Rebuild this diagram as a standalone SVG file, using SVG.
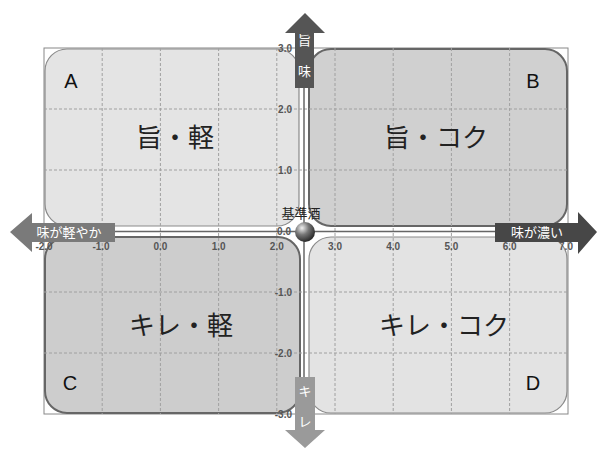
<svg xmlns="http://www.w3.org/2000/svg" width="597" height="450" viewBox="0 0 597 450">
<defs>
<style>
.grid{stroke:#a0a0a0;stroke-width:1;stroke-dasharray:3,2;fill:none}
.tick{font-family:"Liberation Sans",Arial,sans-serif;font-size:10px;font-weight:bold;fill:#555}
.big{font-family:"Noto Sans CJK JP","Liberation Sans",sans-serif;font-size:26px;fill:#222;text-anchor:middle}
.letter{font-family:"Liberation Sans",Arial,sans-serif;font-size:20px;fill:#111;text-anchor:middle}
.arrtxt{font-family:"Noto Sans CJK JP","Liberation Sans",sans-serif;font-size:13px;fill:#fff;text-anchor:middle}
</style>
<radialGradient id="ball" cx="0.35" cy="0.3" r="0.75">
<stop offset="0" stop-color="#f0f0f0"/>
<stop offset="0.45" stop-color="#777"/>
<stop offset="1" stop-color="#222"/>
</radialGradient>
</defs>
<rect width="597" height="450" fill="#fff"/>
<rect x="44" y="48" width="524" height="366" fill="#fff" stroke="#888" stroke-width="1"/>

<g id="quadrantA">
<rect x="45" y="49" width="254" height="177" rx="22" fill="#e4e4e4" stroke="#8a8a8a" stroke-width="1.2"/>
</g>
<g id="quadrantB">
<rect x="309" y="49" width="258" height="177" rx="22" fill="#d0d0d0" stroke="#666" stroke-width="2"/>
</g>
<g id="quadrantC">
<rect x="45" y="237" width="255" height="176" rx="22" fill="#cdcdcd" stroke="#666" stroke-width="2"/>
</g>
<g id="quadrantD">
<rect x="309" y="237" width="258" height="176" rx="22" fill="#e3e3e3" stroke="#8a8a8a" stroke-width="1.2"/>
</g>

<g id="grid">
<line class="grid" x1="102.2" y1="48" x2="102.2" y2="414"/>
<line class="grid" x1="160.4" y1="48" x2="160.4" y2="414"/>
<line class="grid" x1="218.6" y1="48" x2="218.6" y2="414"/>
<line class="grid" x1="276.8" y1="48" x2="276.8" y2="414"/>
<line class="grid" x1="335" y1="48" x2="335" y2="414"/>
<line class="grid" x1="393.2" y1="48" x2="393.2" y2="414"/>
<line class="grid" x1="451.4" y1="48" x2="451.4" y2="414"/>
<line class="grid" x1="509.6" y1="48" x2="509.6" y2="414"/>
<line class="grid" x1="44" y1="109" x2="568" y2="109"/>
<line class="grid" x1="44" y1="170" x2="568" y2="170"/>
<line class="grid" x1="44" y1="292" x2="568" y2="292"/>
<line class="grid" x1="44" y1="353" x2="568" y2="353"/>
</g>

<g id="connectors">
<line x1="44" y1="231.5" x2="568" y2="231.5" stroke="#666" stroke-width="1.5"/>
<line x1="304" y1="48" x2="304" y2="414" stroke="#666" stroke-width="1.5"/>
<path d="M10,232 L32,213 L32,223 L115,223 L115,242 L32,242 L32,252 Z" fill="#7a7a7a"/>
<path d="M597,232 L578,212 L578,223 L495,223 L495,242 L578,242 L578,254 Z" fill="#474747"/>
<path d="M305,13 L285,33 L295,33 L295,88 L314,88 L314,33 L325,33 Z" fill="#555"/>
<path d="M305,448 L285,430 L295,430 L295,377 L315,377 L315,430 L325,430 Z" fill="#9a9a9a"/>
</g>

<g id="tick-labels">
<text class="tick" x="292" y="52" text-anchor="end">3.0</text>
<text class="tick" x="292" y="113" text-anchor="end">2.0</text>
<text class="tick" x="292" y="174" text-anchor="end">1.0</text>
<text class="tick" x="291" y="235" text-anchor="end">0.0</text>
<text class="tick" x="292" y="296" text-anchor="end">-1.0</text>
<text class="tick" x="292" y="357" text-anchor="end">-2.0</text>
<text class="tick" x="292" y="418" text-anchor="end">-3.0</text>
<text class="tick" x="44" y="250" text-anchor="middle">-2.0</text>
<text class="tick" x="101" y="250" text-anchor="middle">-1.0</text>
<text class="tick" x="160.4" y="250" text-anchor="middle">0.0</text>
<text class="tick" x="218.6" y="250" text-anchor="middle">1.0</text>
<text class="tick" x="276.8" y="250" text-anchor="middle">2.0</text>
<text class="tick" x="335" y="250" text-anchor="middle">3.0</text>
<text class="tick" x="393.2" y="250" text-anchor="middle">4.0</text>
<text class="tick" x="451.4" y="250" text-anchor="middle">5.0</text>
<text class="tick" x="509.6" y="250" text-anchor="middle">6.0</text>
<text class="tick" x="566" y="250" text-anchor="middle">7.0</text>
</g>

<g id="axis-labels">
<text class="arrtxt" x="69" y="237">味が軽やか</text>
<text class="arrtxt" x="537" y="237">味が濃い</text>
<text class="arrtxt" x="304.5" y="45">旨</text>
<text class="arrtxt" x="304.5" y="76">味</text>
<text class="arrtxt" x="305" y="396">キ</text>
<text class="arrtxt" x="305" y="426">レ</text>
</g>

<g id="labelA"><text class="letter" x="71" y="88">A</text><text class="big" x="175" y="147">旨・軽</text></g>
<g id="labelB"><text class="letter" x="533" y="88">B</text><text class="big" x="436" y="147">旨・コク</text></g>
<g id="labelC"><text class="letter" x="70" y="390">C</text><text class="big" x="181" y="335">キレ・軽</text></g>
<g id="labelD"><text class="letter" x="533" y="390">D</text><text class="big" x="444" y="335">キレ・コク</text></g>

<g id="center">
<circle cx="305" cy="232" r="10" fill="url(#ball)"/>
<text x="301" y="218" font-family="'Noto Sans CJK JP','Liberation Sans',sans-serif" font-size="13" fill="#222" text-anchor="middle">基準酒</text>
</g>
</svg>
